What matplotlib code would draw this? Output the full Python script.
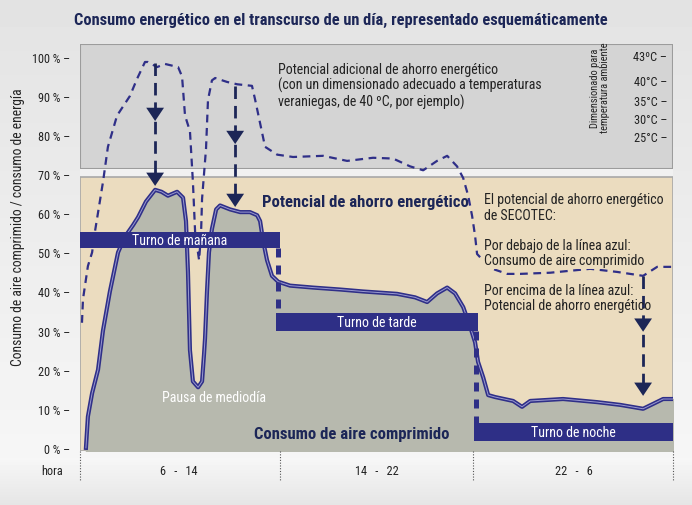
import numpy as np
import matplotlib
matplotlib.use('Agg')
import matplotlib.pyplot as plt
from matplotlib import font_manager
from matplotlib.patches import Rectangle, Polygon

# Schrift: schmale Variante, falls vorhanden
available = {f.name for f in font_manager.fontManager.ttflist}
FONT = 'DejaVu Sans'
for cand in ['Liberation Sans Narrow', 'Roboto Condensed', 'Open Sans Condensed', 'Liberation Sans']:
    if cand in available:
        FONT = cand
        break
plt.rcParams['font.family'] = [FONT, 'DejaVu Sans']

NAVY = '#1c2657'
LINE_BLUE = '#2f2f88'
BAR_BLUE = '#2e2f86'

# Druckluftverbrauch (Stunden ab 6 Uhr, Prozent)
air_h = [0.24, 0.32, 0.49, 0.73, 0.93, 1.21, 1.54, 1.82, 2.15, 2.35, 2.67, 3.04, 3.30, 3.56, 3.93, 4.17,
         4.29, 4.37, 4.45, 4.57, 4.78, 4.94, 5.02, 5.06, 5.14, 5.22, 5.34, 5.51, 5.67, 6.07, 6.48, 6.88,
         7.17, 7.29, 7.41, 7.57, 7.77, 8.02, 8.50, 9.43, 10.53, 11.46, 12.83, 13.56, 14.05, 14.45, 14.86,
         15.18, 15.51, 15.79, 15.99, 16.11, 16.32, 16.52, 16.80, 17.53, 17.89, 18.22, 19.55, 20.93, 21.86,
         22.79, 23.60, 24.0]
air_pct = [0, 8, 14, 20, 30, 40, 50, 54, 57, 59, 63, 66, 65.5, 64.5, 65.5, 64,
           58, 45, 25, 17, 15.5, 17, 24, 28, 40, 50, 56, 61, 62, 61, 60.3, 60.3,
           59.5, 58, 53, 48, 44, 42.5, 41.5, 41, 40.5, 40, 39.4, 38.5, 37.3, 39.5, 41,
           39.5, 36, 31, 27, 22, 18, 13.5, 13, 12, 10.5, 12, 12.5, 11.7, 11,
           10, 12.5, 12.5]

# Energieverbrauch bei Auslegung auf 40 °C
energy_h = [0.08, 0.12, 0.32, 0.49, 0.61, 0.93, 1.13, 1.50, 2.02, 2.31, 2.63, 2.75, 3.12, 3.44, 3.97, 4.13,
            4.25, 4.45, 4.57, 4.66, 4.82, 4.90, 4.94, 5.10, 5.18, 5.34, 5.47, 5.95, 6.36, 6.96, 7.09, 7.29,
            7.49, 7.98, 8.62, 9.84, 10.81, 11.86, 12.67, 13.36, 13.89, 14.45, 14.86, 15.26, 15.51, 15.71,
            15.87, 15.99, 16.07, 16.60, 17.29, 17.81, 19.03, 20.65, 21.74, 22.79, 23.36, 24.0]
energy_pct = [32, 38, 46.5, 50, 55.5, 68, 77, 85, 90, 94.4, 98.7, 98.7, 97.4, 98.2, 97.4, 95,
              85, 81, 68, 55, 48, 55, 63.7, 76.5, 89, 94, 94.6, 93.6, 93, 92.6, 89, 83,
              77, 75, 74.4, 74.7, 73.4, 74.2, 74, 72, 71, 73.4, 74.7, 72, 69, 64.5,
              59.3, 54.2, 49.6, 46, 44.5, 44.5, 44.8, 45.8, 45, 44, 46.3, 46.3]

# Schichten
shifts = ['Turno de mañana', 'Turno de tarde', 'Turno de noche']
shift_start = [0, 7.95, 15.95]
shift_end = [8.1, 16.1, 24]
shift_low = [51.2, 29.9, 1.8]
shift_high = [55.2, 34.5, 6.4]

# Pfeile (Einsparpotential)
arrow_x = [3.04, 6.28, 22.79]
arrow_top = [98.5, 92.6, 44]
arrow_tip1 = [83.6, 77.7, 29.7]
arrow_tip2 = [67, 61.6, 13.3]

y_ticks = [0, 10, 20, 30, 40, 50, 60, 70, 80, 90, 100]
temp_labels = ['43ºC –', '40°C –', '35°C –', '30°C –', '25°C –']
temp_pct = [100, 93.6, 88.7, 84, 79.5]
period_labels = ['6   -   14', '14   -   22', '22   -   6']
period_center = [4, 12, 20]
period_edges = [0, 8.1, 15.9, 24]

fig = plt.figure(figsize=(6.92, 5.06), dpi=100)

# Hintergrundverlauf
bg = fig.add_axes([0, 0, 1, 1], zorder=-10)
grad = np.concatenate([np.linspace(0.89, 0.965, 460), np.linspace(0.965, 0.9, 46)])
bg.imshow(grad[:, None], aspect='auto', cmap='gray', vmin=0, vmax=1, extent=[0, 1, 0, 1])
bg.axis('off')

ax = fig.add_axes([80 / 692, 54 / 506, 593 / 692, 407 / 506])
ax.set_xlim(0, 24)
ax.set_ylim(-0.8, 103.3)
ax.patch.set_alpha(0)

# Kästen
ax.add_patch(Rectangle((0, 71.4), 24, 31.9, facecolor='#d4d4d4', edgecolor='#9c9c9c', lw=1.5, zorder=0))
ax.add_patch(Rectangle((0, 69.4), 24, 2.0, facecolor='#f1f1f1', edgecolor='none', zorder=0))
ax.add_patch(Rectangle((0, -0.8), 24, 70.2, facecolor='#ebdcbf', edgecolor='#a8a8a8', lw=1.2, zorder=0))

# Fläche unter der Druckluftkurve
ax.fill_between(air_h, air_pct, -0.8, color='#b7b9ae', zorder=1)
ax.plot(air_h, air_pct, color=LINE_BLUE, lw=3.0, zorder=4, solid_joinstyle='round')
ax.plot(air_h, air_pct, color='#9a9ad0', lw=0.7, zorder=4)

# Energie (gestrichelt)
ax.plot(energy_h, energy_pct, color=LINE_BLUE, lw=1.6, dashes=(3.5, 2.5), zorder=3)

# Schichtbalken
for name, s0, s1, lo, hi in zip(shifts, shift_start, shift_end, shift_low, shift_high):
    ax.add_patch(Rectangle((s0, lo), s1 - s0, hi - lo, facecolor=BAR_BLUE, edgecolor='none', zorder=5))
    ax.text((s0 + s1) / 2, (lo + hi) / 2, name, color='white', fontsize=10,
            ha='center', va='center', zorder=6)
# Verbindungen zwischen den Schichten
ax.plot([shift_start[1] + 0.06] * 2, [shift_low[0], shift_high[1]], color=BAR_BLUE, lw=3.6,
        dashes=(1.8, 1.6), zorder=5)
ax.plot([shift_end[1] - 0.06] * 2, [shift_low[1], shift_high[2]], color=BAR_BLUE, lw=3.6,
        dashes=(1.8, 1.6), zorder=5)

# Pfeile
hw = 0.36
hh = 3.4
for x, top, t1, t2 in zip(arrow_x, arrow_top, arrow_tip1, arrow_tip2):
    ax.plot([x, x], [top, t2 + hh], color=NAVY, lw=2.0, dashes=(4.5, 2.5), zorder=6)
    for tip in (t1, t2):
        ax.add_patch(Polygon([[x - hw, tip + hh], [x + hw, tip + hh], [x, tip]],
                             closed=True, facecolor=NAVY, edgecolor='none', zorder=7))

# Texte im Diagramm
ax.text(8.02, 98.8, 'Potencial adicional de ahorro energético\n(con un dimensionado adecuado a temperaturas\n'
        'veraniegas, de 40 ºC, por ejemplo)', fontsize=10, color='#222222', va='top', ha='left',
        linespacing=1.1, zorder=6)
ax.text(21.05, 92.3, 'Dimensionado para\ntemperatura ambiente', rotation=90, fontsize=7.5,
        color='#222222', ha='center', va='center', linespacing=0.95, zorder=6)
for lab, p in zip(temp_labels, temp_pct):
    ax.text(23.77, p, lab, fontsize=8.8, color='#222222', ha='right', va='center', zorder=6)

ax.text(11.54, 62.9, 'Potencial de ahorro energético', fontsize=12, fontweight='bold', color=NAVY,
        ha='center', va='center', zorder=6)
ax.text(16.36, 61.6, 'El potencial de ahorro energético\nde SECOTEC:', fontsize=10, color='#222222',
        ha='left', va='center', linespacing=1.1, zorder=6)
ax.text(16.36, 49.9, 'Por debajo de la línea azul:\nConsumo de aire comprimido', fontsize=10,
        color='#222222', ha='left', va='center', linespacing=1.1, zorder=6,
        bbox=dict(boxstyle='square,pad=0.1', facecolor='#ebdcbf', edgecolor='none'))
ax.text(16.36, 38.4, 'Por encima de la línea azul:\nPotencial de ahorro energético', fontsize=10,
        color='#222222', ha='left', va='center', linespacing=1.1, zorder=6)
ax.text(3.32, 13, 'Pausa de mediodía', fontsize=10, color='white', ha='left', va='center', zorder=6)
ax.text(11.0, 3.6, 'Consumo de aire comprimido', fontsize=12, fontweight='bold', color=NAVY,
        ha='center', va='center', zorder=6)

# Achsen
ax.set_yticks(y_ticks)
ax.set_yticklabels([f'{v} % –' for v in y_ticks], fontsize=8.8, color='#222222')
ax.tick_params(axis='y', length=0, pad=7)
ax.set_xticks([])
for sp in ax.spines.values():
    sp.set_visible(False)

for lab, c in zip(period_labels, period_center):
    ax.text(c, -5.9, lab, fontsize=8.8, color='#222222', ha='center', va='center', clip_on=False)
ax.text(-1.13, -5.9, 'hora', fontsize=8.8, color='#222222', ha='center', va='center', clip_on=False)
for e in period_edges:
    ax.plot([e, e], [-0.8, -8.4], color='#555555', lw=0.8, ls=(0, (1, 1.5)), clip_on=False)

fig.text(0.026, 0.551, 'Consumo de aire comprimido / consumo de energía', rotation=90,
         fontsize=9.8, color='#222222', ha='center', va='center')
fig.text(0.492, 0.96, 'Consumo energético en el transcurso de un día, representado esquemáticamente',
         fontsize=11.8, fontweight='bold', color=NAVY, ha='center', va='center')

fig.savefig('out.png', dpi=100)
